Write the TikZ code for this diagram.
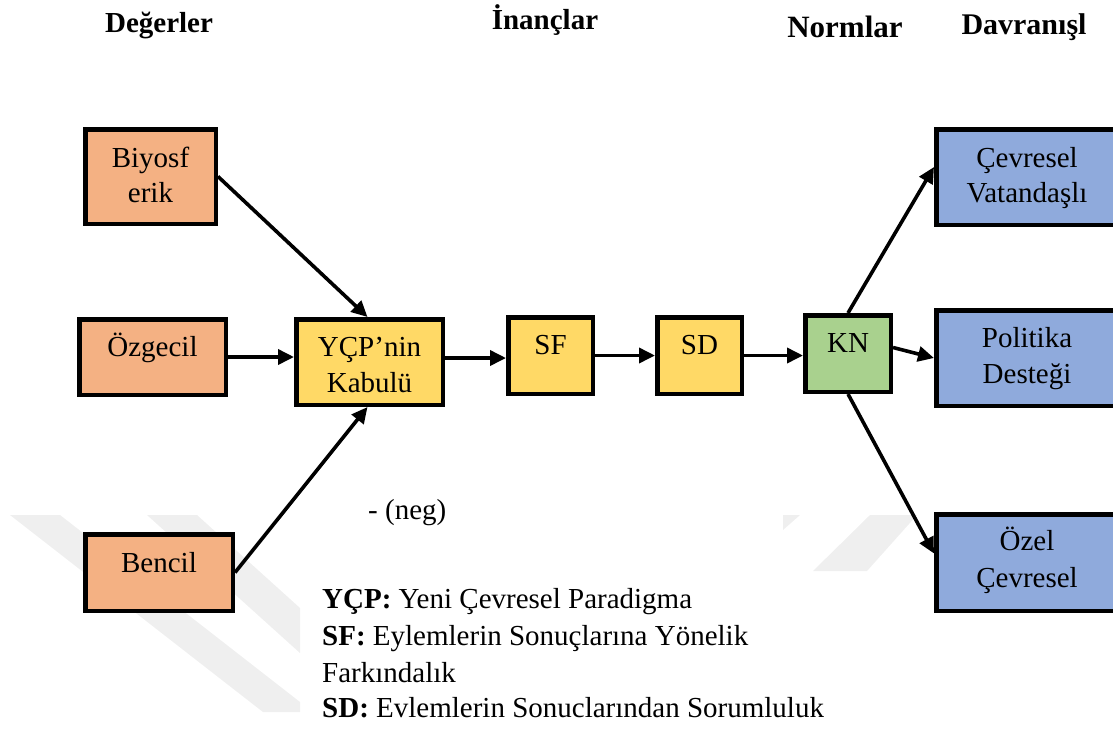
\documentclass[tikz,border=0pt]{standalone}
\usepackage{fontspec}
\setmainfont{Liberation Serif}
\usetikzlibrary{arrows.meta}
\definecolor{valuefill}{HTML}{F4B183}
\definecolor{belieffill}{HTML}{FFD966}
\definecolor{normfill}{HTML}{A9D18E}
\definecolor{actfill}{HTML}{8FAADC}
\definecolor{wmgray}{HTML}{EFEFEF}
\begin{document}
\begin{tikzpicture}[x=1pt,y=-1pt,
  box/.style={draw=black, line width=4.5pt, inner sep=0pt},
  txt/.style={anchor=base, inner sep=0pt, font=\fontsize{29}{35}\selectfont},
  head/.style={anchor=base, inner sep=0pt, font=\bfseries\fontsize{29}{35}\selectfont},
  legend/.style={anchor=base west, inner sep=0pt, font=\fontsize{29}{35}\selectfont},
  link/.style={line width=3.6pt, -{Triangle[length=16pt,width=15pt]}},
]
\useasboundingbox (0,0) rectangle (1113,729);
\clip (0,0) rectangle (1113,729);

% faint background mark
\fill[wmgray] (10,515) -- (60,515) -- (300,702) -- (300,712) -- (263,712) -- cycle;
\fill[wmgray] (147,515) -- (197,515) -- (300,608) -- (300,653) -- cycle;
\fill[wmgray] (870,515) -- (917,515) -- (867,571) -- (813,571) -- cycle;
\fill[wmgray] (783,515) -- (800,515) -- (783,530) -- cycle;

% column headings
\node[head] (hval) at (159,32) {Değerler};
\node[head] (hbel) at (545,29) {İnançlar};
\node[head, font=\bfseries\fontsize{31}{35}\selectfont] (hnorm) at (845,37) {Normlar};
\node[head, font=\bfseries\fontsize{30}{35}\selectfont] (hact) at (1024,34) {Davranışl};

% values
\node[box, fill=valuefill, minimum width=130.5, minimum height=94.5] (bio) at (150.5,176.5) {};
\node[box, fill=valuefill, minimum width=146.5, minimum height=75.5] (oz) at (152.5,357) {};
\node[box, fill=valuefill, minimum width=147.5, minimum height=76.5] (ben) at (159,572.5) {};
% beliefs
\node[box, fill=belieffill, minimum width=146.5, minimum height=85.5] (ycp) at (369.5,362) {};
\node[box, fill=belieffill, minimum width=84.5, minimum height=76.5] (sf) at (550.5,355.5) {};
\node[box, fill=belieffill, minimum width=84.5, minimum height=76.5] (sd) at (699.5,355.5) {};
% norms
\node[box, fill=normfill, minimum width=85.5, minimum height=76.5] (kn) at (848,353.5) {};
% behaviours
\node[box, fill=actfill, minimum width=181.5, minimum height=95.5] (cev) at (1027,177) {};
\node[box, fill=actfill, minimum width=181.5, minimum height=95.5] (pol) at (1027,358) {};
\node[box, fill=actfill, minimum width=181.5, minimum height=96.5] (ozel) at (1027,562.5) {};

% box labels
\node[txt] (bio1) at (150.5,167) {Biyosf};
\node[txt] (bio2) at (150.5,202) {erik};
\node[txt] (oz1) at (152.5,356) {Özgecil};
\node[txt] (ben1) at (159,572) {Bencil};
\node[txt] (ycp1) at (369.5,356) {YÇP’nin};
\node[txt] (ycp2) at (369.5,392) {Kabulü};
\node[txt] (sf1) at (550.5,354) {SF};
\node[txt] (sd1) at (699.5,354) {SD};
\node[txt] (kn1) at (848,352) {KN};
\node[txt] (cev1) at (1027,167) {Çevresel};
\node[txt] (cev2) at (1027,202) {Vatandaşlı};
\node[txt] (pol1) at (1027,347) {Politika};
\node[txt] (pol2) at (1027,383) {Desteği};
\node[txt] (ozel1) at (1027,550) {Özel};
\node[txt] (ozel2) at (1027,587) {Çevresel};

% connectors
\draw[link] (bio.east) -- ([xshift=-2pt]ycp.north);
\draw[link] (oz.east) -- (oz.east -| ycp.west);
\draw[link] (ben.east) -- ([xshift=-2pt]ycp.south);
\draw[link] ([yshift=4pt]ycp.east) -- ([yshift=4pt]ycp.east -| sf.west);
\draw[link] (sf.east) -- (sd.west);
\draw[link] (sd.east) -- (sd.east -| kn.west);
\draw[link] (kn.north) -- ([yshift=10pt]cev.west);
\draw[link] ([yshift=6pt]kn.east) -- (pol.west);
\draw[link] (kn.south) -- ([yshift=9pt]ozel.west);

% annotations
\node[legend] (neg) at (368,519) {- (neg)};
\node[legend] (lg1) at (322,608) {\textbf{YÇP:} Yeni Çevresel Paradigma};
\node[legend] (lg2) at (322,645) {\textbf{SF:} Eylemlerin Sonuçlarına Yönelik};
\node[legend] (lg3) at (322,682) {Farkındalık};
\node[legend] (lg4) at (322,717) {\textbf{SD:} Evlemlerin Sonuclarından Sorumluluk};
\end{tikzpicture}
\end{document}
